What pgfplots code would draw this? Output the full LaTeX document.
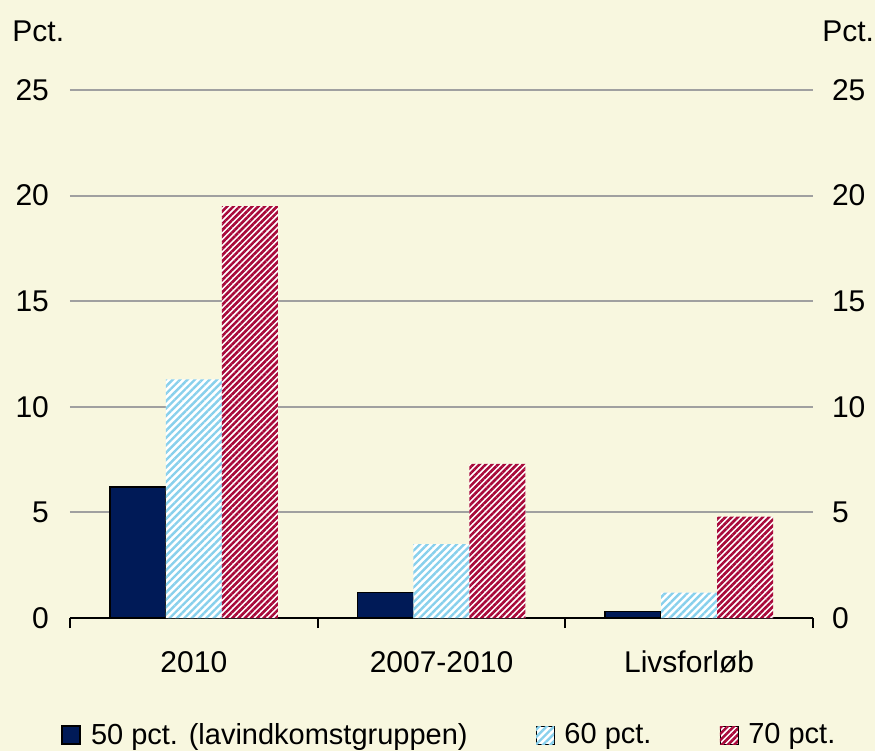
\documentclass[border=0pt]{standalone}
\usepackage{fontspec}
\setmainfont{Liberation Sans}
\usepackage{pgfplots}
\pgfplotsset{compat=1.18}
\usetikzlibrary{patterns.meta}
\definecolor{bg}{HTML}{F8F7DF}
\definecolor{navy}{HTML}{001A57}
\definecolor{lblue}{HTML}{88D0EC}
\definecolor{wine}{HTML}{A8093A}
\definecolor{gridc}{HTML}{A0A0A0}
\tikzset{
  bluehatch/.style={fill=white, postaction={pattern={Lines[angle=45,distance=2.6pt,line width=1.2pt]}, pattern color=lblue}},
  redhatch/.style={fill=white, postaction={pattern={Lines[angle=45,distance=2.2pt,line width=1.3pt]}, pattern color=wine}},
}
\begin{document}
\begin{tikzpicture}
\useasboundingbox (0,0) rectangle (437.5pt,375.5pt);
\fill[bg] (0,0) rectangle (437.5pt,375.5pt);
\begin{axis}[
  at={(35pt,66.5pt)}, anchor=south west,
  scale only axis, width=371.5pt, height=264pt,
  ymin=0, ymax=25, ytick={0,5,10,15,20,25},
  xmin=-0.5, xmax=2.5,
  xtick={-0.5,0.5,1.5,2.5}, x tick label as interval,
  xticklabels={2010,2007-2010,Livsforløb},
  x tick style={black, line width=0.9pt}, 
  xtick align=outside, major tick length=5pt,
  ymajorgrids, grid style={gridc, line width=1pt},
  xmajorgrids=false,
  y tick style={draw=none},
  axis y line*=left, y axis line style={draw=none},
  axis x line*=bottom, x axis line style={black, line width=1pt, -},
  /pgf/number format/assume math mode=true,
  tick label style={font=\fontsize{15}{18}\selectfont},
  xticklabel style={yshift=-8pt},
  yticklabel style={xshift=-7pt},
  ybar=0pt, bar width=28pt,
  legend style={at={(0.512,-0.222)}, anchor=center, draw=none, fill=none,
    font=\fontsize{14.5}{17}\selectfont, legend columns=3,
    /tikz/every odd column/.append style={column sep=3pt},
    /tikz/every even column/.append style={column sep=32pt}},
  legend image code/.code={\draw[#1] (0pt,-4.5pt) rectangle (9pt,4.5pt);},
  clip=false,
]
\addplot[draw=black, line width=0.8pt, fill=navy] coordinates {(0,6.2) (1,1.2) (2,0.3)};
\addplot[draw=none, bluehatch] coordinates {(0,11.3) (1,3.5) (2,1.2)};
\addplot[draw=none, redhatch] coordinates {(0,19.5) (1,7.3) (2,4.8)};
\legend{50 pct. (lavindkomstgruppen),60 pct.,70 pct.}
\node[font=\fontsize{15}{18}\selectfont, anchor=west, inner sep=0pt] at (rel axis cs:-0.078,1.112) {Pct.};
\node[font=\fontsize{15}{18}\selectfont, anchor=west, inner sep=0pt] at (rel axis cs:1.012,1.112) {Pct.};
\end{axis}
\begin{axis}[
  at={(35pt,66.5pt)}, anchor=south west,
  scale only axis, width=371.5pt, height=264pt,
  ymin=0, ymax=25, ytick={0,5,10,15,20,25},
  xmin=-0.5, xmax=2.5, xtick=\empty,
  axis y line*=right, y axis line style={draw=none},
  y tick style={draw=none},
  axis x line=none,
  /pgf/number format/assume math mode=true,
  tick label style={font=\fontsize{15}{18}\selectfont},
  yticklabel style={anchor=west, xshift=6pt},
]
\addplot[draw=none] coordinates {(0,0)};
\end{axis}
\end{tikzpicture}
\end{document}
